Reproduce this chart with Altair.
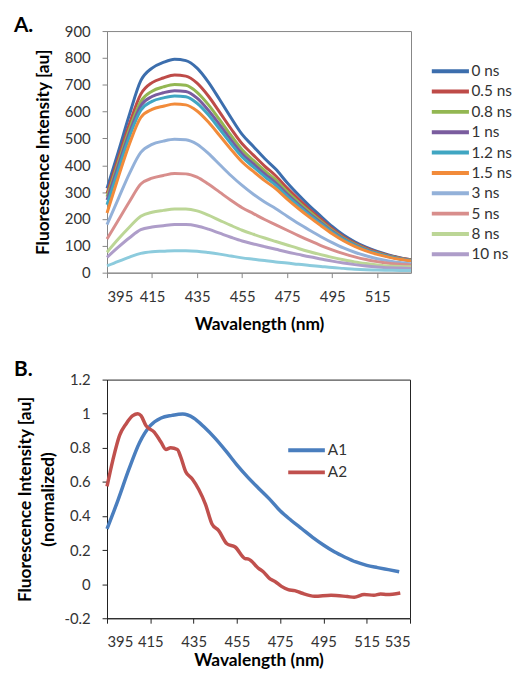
import altair as alt
import pandas as pd

FONT = "Lato"

# ---------------- Panel A data ----------------
wl_a = [395, 400, 405, 410, 415, 420, 425, 430, 435, 440, 445, 450, 455, 460,
        465, 470, 475, 480, 485, 490, 495, 500, 505, 510, 515, 520, 525, 530]

names_a = ["0 ns", "0.5 ns", "0.8 ns", "1 ns", "1.2 ns", "1.5 ns",
           "3 ns", "5 ns", "8 ns", "10 ns", "20 ns"]
legend_names_a = names_a[:10]

s_0 = [314, 450, 590, 715, 762, 783, 795, 790, 762, 710, 645, 578, 515, 470,
       425, 385, 335, 290, 248, 210, 172, 140, 115, 95, 79, 66, 56, 48]
s_05 = [295, 425, 555, 665, 708, 725, 736, 732, 706, 658, 598, 537, 480, 438,
        397, 360, 315, 274, 235, 199, 164, 134, 110, 91, 76, 64, 55, 48]
s_08 = [283, 410, 535, 638, 676, 692, 701, 698, 672, 626, 570, 512, 458, 418,
        380, 345, 302, 263, 226, 191, 158, 129, 106, 88, 74, 62, 53, 47]
s_1 = [271, 398, 522, 622, 656, 670, 678, 675, 650, 605, 551, 495, 443, 405,
       368, 334, 293, 255, 219, 186, 154, 126, 104, 86, 72, 61, 52, 46]
s_12 = [253, 383, 508, 605, 638, 651, 658, 655, 631, 588, 535, 481, 431, 394,
        358, 325, 285, 249, 214, 182, 151, 124, 102, 84, 71, 60, 51, 45]
s_15 = [222, 355, 480, 578, 608, 620, 628, 625, 602, 561, 511, 460, 412, 377,
        343, 312, 274, 239, 206, 175, 145, 119, 98, 81, 68, 58, 50, 44]
s_3 = [179, 275, 370, 448, 478, 490, 497, 495, 478, 444, 403, 362, 325, 292,
       263, 238, 210, 183, 158, 134, 112, 92, 76, 63, 52, 44, 38, 33]
s_5 = [125, 195, 265, 330, 352, 362, 369, 368, 356, 330, 300, 270, 242, 220,
       198, 178, 158, 138, 119, 101, 85, 71, 59, 49, 41, 35, 31, 28]
s_8 = [76, 125, 170, 210, 225, 232, 237, 237, 230, 214, 195, 176, 158, 143,
       129, 116, 103, 90, 78, 67, 57, 48, 40, 34, 29, 25, 23, 22]
s_10 = [57, 95, 130, 160, 170, 175, 179, 179, 174, 162, 147, 132, 118, 107,
        97, 87, 77, 68, 59, 51, 43, 36, 30, 25, 21, 18, 17, 16]
s_20 = [25, 42, 58, 72, 78, 80, 82, 82, 80, 75, 69, 62, 55, 50,
        45, 40, 36, 31, 27, 23, 19, 16, 13, 11, 10, 9, 8, 8]

series_a = [s_0, s_05, s_08, s_1, s_12, s_15, s_3, s_5, s_8, s_10, s_20]
colors_a = ["#3C6EAD", "#BE4B48", "#93B752", "#7A5C9E", "#40A6C2", "#F28B3A",
            "#93B1D9", "#D88E8C", "#BCD696", "#AE9DC9", "#8CCBDD"]

x_ticks_a = [395, 415, 435, 455, 475, 495, 515]
y_ticks_a = [0, 100, 200, 300, 400, 500, 600, 700, 800, 900]

# ---------------- Panel B data ----------------
wl_b1 = wl_a
a1 = [0.324, 0.49, 0.67, 0.83, 0.93, 0.975, 0.99, 0.998, 0.975, 0.92, 0.855,
      0.78, 0.70, 0.628, 0.563, 0.50, 0.43, 0.375, 0.325, 0.275, 0.23, 0.19,
      0.158, 0.13, 0.11, 0.097, 0.085, 0.073]

wl_b2 = [395, 397.7, 400.8, 403.8, 406.9, 409.2, 410.7, 413, 416.8, 419.9,
         422.2, 424.4, 427.5, 429, 431.3, 434.4, 437.4, 440.5, 443.5, 446.6,
         450.4, 454.2, 458.8, 460.4, 465, 467.2, 470.3, 472.6, 475.6, 478.7,
         481.7, 484.8, 490.9, 498.5, 506.1, 509.2, 513.8, 518.3, 521.4, 524.4,
         530.5]
a2 = [0.574, 0.728, 0.873, 0.94, 0.988, 1.0, 0.988, 0.93, 0.892, 0.834,
      0.79, 0.80, 0.79, 0.748, 0.661, 0.617, 0.555, 0.468, 0.353, 0.314,
      0.237, 0.218, 0.15, 0.147, 0.093, 0.073, 0.031, 0.016, -0.013, -0.032,
      -0.038, -0.052, -0.071, -0.065, -0.073, -0.077, -0.061, -0.065, -0.058,
      -0.061, -0.052]

names_b = ["A1", "A2"]
colors_b = ["#4A7EBE", "#C0504D"]
x_ticks_b = [395, 415, 435, 455, 475, 495, 515, 535]
y_ticks_b = [-0.2, 0, 0.2, 0.4, 0.6, 0.8, 1.0, 1.2]

# ---------------- build tables ----------------
rows = []
for name, vals in zip(names_a, series_a):
    for w, v in zip(wl_a, vals):
        rows.append({"wl": w, "val": v, "series": name})
df_a = pd.DataFrame(rows)

rows = []
for w, v in zip(wl_b1, a1):
    rows.append({"wl": w, "val": v, "series": "A1"})
for w, v in zip(wl_b2, a2):
    rows.append({"wl": w, "val": v, "series": "A2"})
df_b = pd.DataFrame(rows)

leg_a = pd.DataFrame({"series": legend_names_a})
leg_b = pd.DataFrame({"series": names_b})

GRAY = "#868686"
DARK = "#222222"
LABEL_COLOR = "#333333"


def axis(values, title, dom_color, **kw):
    return alt.Axis(values=values, title=title, grid=False, domainColor=dom_color,
                    tickColor=dom_color, tickSize=5, labelFont=FONT, labelFontSize=15,
                    labelColor=LABEL_COLOR, titleFont=FONT, titleFontSize=17.5,
                    titleFontWeight="bold", titleColor="#000000", labelPadding=12, **kw)


def legend_layers(df, names, domain, colors, y_range, x0, x1, xt):
    ysc = alt.Y("series:N", axis=None,
                scale=alt.Scale(type="point", domain=names, range=y_range, padding=0))
    col = alt.Color("series:N", scale=alt.Scale(domain=domain, range=colors), legend=None)
    rule = alt.Chart(df).mark_rule(strokeWidth=4).encode(
        x=alt.value(x0), x2=alt.value(x1), y=ysc, color=col)
    text = alt.Chart(df).mark_text(
        align="left", baseline="middle", font=FONT, fontSize=15.5,
        color=LABEL_COLOR).encode(x=alt.value(xt), y=ysc, text="series:N")
    return rule, text


def tag(label, yv):
    return alt.Chart(pd.DataFrame({"t": [label]})).mark_text(
        font=FONT, fontSize=21, fontWeight="bold", align="left", baseline="alphabetic",
        color="#000000").encode(text="t:N", x=alt.value(-94), y=alt.value(yv))


# ---------------- Panel A ----------------
lines_a = alt.Chart(df_a).mark_line(strokeWidth=3, interpolate="monotone").encode(
    x=alt.X("wl:Q", scale=alt.Scale(domain=[395, 530], nice=False, zero=False),
            axis=axis(x_ticks_a, "Wavalength (nm)", GRAY, titlePadding=11)),
    y=alt.Y("val:Q", scale=alt.Scale(domain=[0, 900], nice=False),
            axis=axis(y_ticks_a, "Fluorescence Intensity [au]", GRAY, titlePadding=12)),
    color=alt.Color("series:N", scale=alt.Scale(domain=names_a, range=colors_a),
                    legend=None),
)
rule_a, text_a = legend_layers(leg_a, legend_names_a, names_a, colors_a,
                               [40.5, 225.5], 328, 365.5, 368)

chart_a = alt.layer(lines_a, rule_a, text_a, tag("A.", 1)).resolve_scale(
    y="independent").properties(
    width=307, height=244, view=alt.ViewBackground(stroke=GRAY, strokeWidth=1))

# ---------------- Panel B ----------------
lines_b = alt.Chart(df_b).mark_line(strokeWidth=3.5, interpolate="monotone").encode(
    x=alt.X("wl:Q", scale=alt.Scale(domain=[395, 535], nice=False, zero=False),
            axis=axis(x_ticks_b, "Wavalength (nm)", DARK, titlePadding=2)),
    y=alt.Y("val:Q", scale=alt.Scale(domain=[-0.2, 1.2], nice=False, zero=False),
            axis=axis(y_ticks_b, ["Fluorescence Intensity [au]", "(normalized)"],
                      DARK, titlePadding=7, titleLineHeight=23,
                      labelExpr="datum.value < 0 ? '-' + format(-datum.value, '~g') : format(datum.value, '~g')")),
    color=alt.Color("series:N", scale=alt.Scale(domain=names_b, range=colors_b),
                    legend=None),
)
rule_b, text_b = legend_layers(leg_b, names_b, names_b, colors_b,
                               [71.3, 93.7], 183, 220, 223)

chart_b = alt.layer(lines_b, rule_b, text_b, tag("B.", -4)).resolve_scale(
    y="independent").properties(
    width=306, height=241, view=alt.ViewBackground(stroke=DARK, strokeWidth=1))

chart = alt.vconcat(chart_a, chart_b, spacing=25).resolve_scale(
    color="independent", x="independent", y="independent"
).properties(
    padding={"left": 5, "top": 3, "right": 0, "bottom": -2}
).configure(background="white")

chart.save("out.html", embed_options={"renderer": "svg", "actions": False})
